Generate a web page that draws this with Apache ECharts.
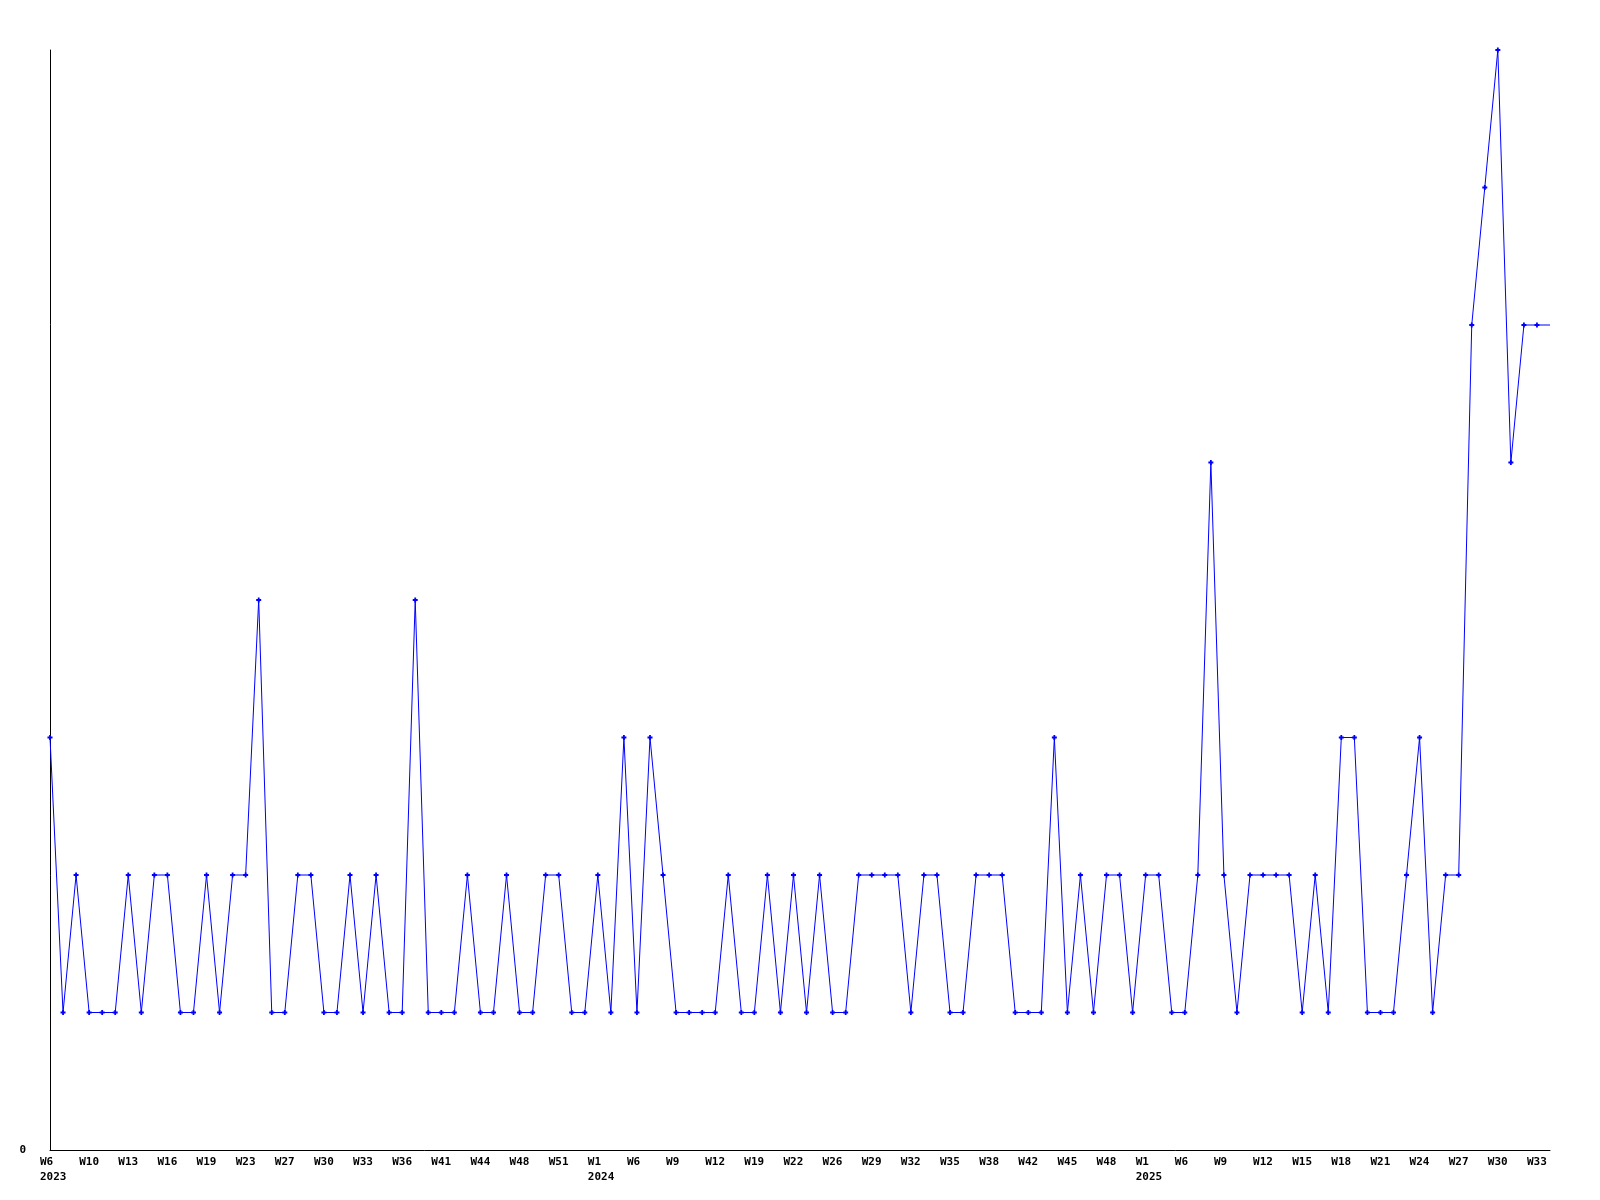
<!DOCTYPE html>
<html>
<head>
<meta charset="utf-8">
<script src="https://cdn.jsdelivr.net/npm/echarts@6/dist/echarts.min.js"></script>
<style>
html,body{margin:0;padding:0;background:#fff;}
#chart{width:1600px;height:1200px;}
</style>
</head>
<body>
<div id="chart"></div>
<script>
// Week categories (year-week)
const weeks2023 = ['W6','W8','W9','W10','W11','W12','W13','W14','W15','W16','W17','W18','W19','W20','W21','W23','W24','W25','W27','W28','W29','W30','W31','W32','W33','W34','W35','W36','W38','W40','W41','W42','W43','W44','W45','W46','W48','W49','W50','W51','W52','W53'];
const weeks2024 = ['W1','W3','W4','W6','W7','W8','W9','W10','W11','W12','W14','W17','W19','W20','W21','W22','W23','W24','W26','W27','W28','W29','W30','W31','W32','W33','W34','W35','W36','W37','W38','W39','W40','W42','W43','W44','W45','W46','W47','W48','W49','W51'];
const weeks2025 = ['W1','W3','W5','W6','W7','W8','W9','W10','W11','W12','W13','W14','W15','W16','W17','W18','W19','W20','W21','W22','W23','W24','W25','W26','W27','W28','W29','W30','W31','W32','W33','W34'];

// Weekly counts
const values = [
  3,1,2,1,1,1,2,1,2,2,
  1,1,2,1,2,2,4,1,1,2,
  2,1,1,2,1,2,1,1,4,1,
  1,1,2,1,1,2,1,1,2,2,
  1,1,2,1,3,1,3,2,1,1,
  1,1,2,1,1,2,1,2,1,2,
  1,1,2,2,2,2,1,2,2,1,
  1,2,2,2,1,1,1,3,1,2,
  1,2,2,1,2,2,1,1,2,5,
  2,1,2,2,2,2,1,2,1,3,
  3,1,1,1,2,3,1,2,2,6,
  7,8,5,6,6,6
];

const yTickLabels = ['0'];

const categories = []
  .concat(weeks2023.map(w => '2023-' + w))
  .concat(weeks2024.map(w => '2024-' + w))
  .concat(weeks2025.map(w => '2025-' + w));

const font = '"DejaVu Sans Mono", "Liberation Mono", monospace';

const chart = echarts.init(document.getElementById('chart'), null, {renderer: 'canvas'});
chart.setOption({
  animation: false,
  backgroundColor: '#ffffff',
  grid: {left: 50, right: 50, top: 50, bottom: 50, containLabel: false},
  xAxis: {
    type: 'category',
    data: categories,
    boundaryGap: false,
    axisLine: {show: true, lineStyle: {color: '#000', width: 1}},
    axisTick: {show: false},
    splitLine: {show: false},
    axisLabel: {
      interval: 2,
      margin: 5,
      align: 'center',
      formatter: function (val, idx) {
        const parts = val.split('-');
        const showYear = idx === 0 || parts[1] === 'W1';
        return showYear ? '{w|' + parts[1] + '}\n{w|' + parts[0] + '}' : '{w|' + parts[1] + '}';
      },
      rich: {
        w: {width: 20, align: 'left', fontFamily: font, fontWeight: 'bold', fontSize: 11, lineHeight: 15, color: '#000'}
      }
    }
  },
  yAxis: {
    type: 'value',
    min: 0,
    max: 8,
    interval: 1,
    axisLine: {show: true, lineStyle: {color: '#000', width: 1}},
    axisTick: {show: false},
    splitLine: {show: false},
    axisLabel: {
      margin: 24,
      fontFamily: font,
      fontWeight: 'bold',
      fontSize: 11,
      color: '#000',
      formatter: function (v) { return yTickLabels.indexOf(String(v)) >= 0 ? String(v) : ''; }
    }
  },
  series: [{
    type: 'line',
    data: values,
    symbol: 'path://M1.6,0H3.4V1.6H5V3.4H3.4V5H1.6V3.4H0V1.6H1.6Z',
    symbolSize: function (v, p) { return p.dataIndex === values.length - 1 ? 0 : 5; },
    showAllSymbol: true,
    lineStyle: {color: '#0000ff', width: 1},
    itemStyle: {color: '#0000ff', borderWidth: 0},
    clip: false
  }]
});
</script>
</body>
</html>
